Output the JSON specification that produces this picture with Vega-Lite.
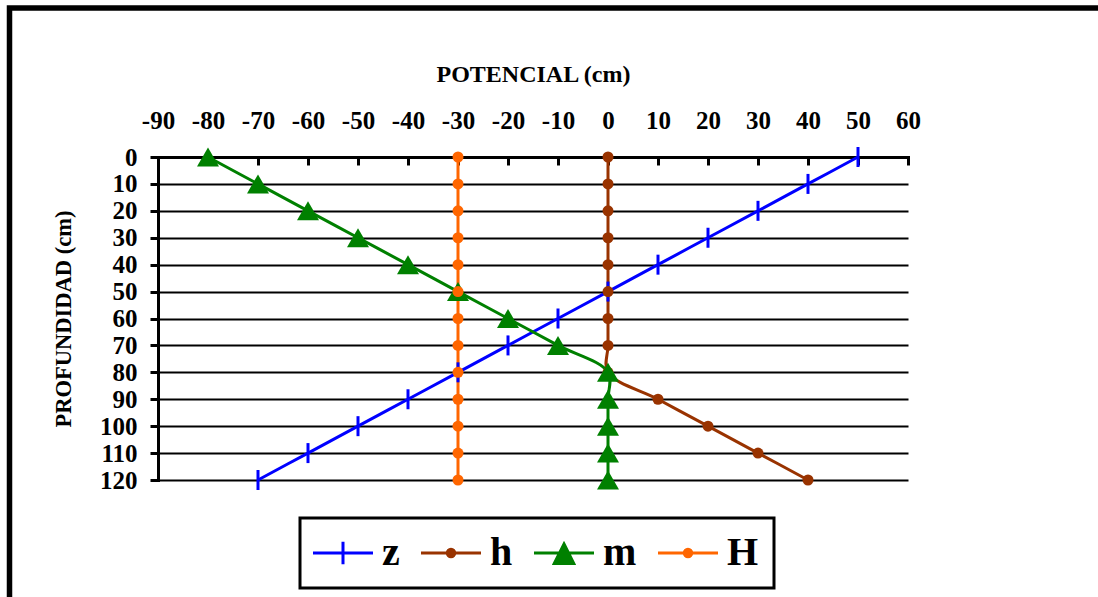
{
  "$schema": "https://vega.github.io/schema/vega-lite/v6.json",
  "width": 750,
  "height": 323,
  "autosize": "none",
  "padding": {"left": 158, "top": 157, "right": 190, "bottom": 117},
  "background": "white",
  "config": {
    "view": {"stroke": null},
    "font": "Liberation Serif",
    "legend": {"strokeWidth": 3}
  },
  "data": {
    "values": [
      {"serie": "z", "prof": 0, "pot": 50}, {"serie": "z", "prof": 10, "pot": 40}, {"serie": "z", "prof": 20, "pot": 30},
      {"serie": "z", "prof": 30, "pot": 20}, {"serie": "z", "prof": 40, "pot": 10}, {"serie": "z", "prof": 50, "pot": 0},
      {"serie": "z", "prof": 60, "pot": -10}, {"serie": "z", "prof": 70, "pot": -20}, {"serie": "z", "prof": 80, "pot": -30},
      {"serie": "z", "prof": 90, "pot": -40}, {"serie": "z", "prof": 100, "pot": -50}, {"serie": "z", "prof": 110, "pot": -60},
      {"serie": "z", "prof": 120, "pot": -70},
      {"serie": "h", "prof": 0, "pot": 0}, {"serie": "h", "prof": 10, "pot": 0}, {"serie": "h", "prof": 20, "pot": 0},
      {"serie": "h", "prof": 30, "pot": 0}, {"serie": "h", "prof": 40, "pot": 0}, {"serie": "h", "prof": 50, "pot": 0},
      {"serie": "h", "prof": 60, "pot": 0}, {"serie": "h", "prof": 70, "pot": 0}, {"serie": "h", "prof": 80, "pot": 0},
      {"serie": "h", "prof": 90, "pot": 10}, {"serie": "h", "prof": 100, "pot": 20}, {"serie": "h", "prof": 110, "pot": 30},
      {"serie": "h", "prof": 120, "pot": 40},
      {"serie": "m", "prof": 0, "pot": -80}, {"serie": "m", "prof": 10, "pot": -70}, {"serie": "m", "prof": 20, "pot": -60},
      {"serie": "m", "prof": 30, "pot": -50}, {"serie": "m", "prof": 40, "pot": -40}, {"serie": "m", "prof": 50, "pot": -30},
      {"serie": "m", "prof": 60, "pot": -20}, {"serie": "m", "prof": 70, "pot": -10}, {"serie": "m", "prof": 80, "pot": 0},
      {"serie": "m", "prof": 90, "pot": 0}, {"serie": "m", "prof": 100, "pot": 0}, {"serie": "m", "prof": 110, "pot": 0},
      {"serie": "m", "prof": 120, "pot": 0},
      {"serie": "H", "prof": 0, "pot": -30}, {"serie": "H", "prof": 10, "pot": -30}, {"serie": "H", "prof": 20, "pot": -30},
      {"serie": "H", "prof": 30, "pot": -30}, {"serie": "H", "prof": 40, "pot": -30}, {"serie": "H", "prof": 50, "pot": -30},
      {"serie": "H", "prof": 60, "pot": -30}, {"serie": "H", "prof": 70, "pot": -30}, {"serie": "H", "prof": 80, "pot": -30},
      {"serie": "H", "prof": 90, "pot": -30}, {"serie": "H", "prof": 100, "pot": -30}, {"serie": "H", "prof": 110, "pot": -30},
      {"serie": "H", "prof": 120, "pot": -30}
    ]
  },
  "layer": [
    {
      "data": {"values": [{}]},
      "mark": {"type": "rect", "fill": null, "stroke": "black", "strokeWidth": 5.5},
      "encoding": {
        "x": {
          "datum": -119.7, "type": "quantitative",
          "scale": {"domain": [-90, 60], "nice": false, "zero": false},
          "axis": {
            "orient": "top", "title": "POTENCIAL (cm)",
            "tickCount": 15,
            "labelExpr": "'' + datum.value",
            "grid": false, "domainColor": "black", "domainWidth": 3, "domainCap": "square",
            "tickColor": "black", "tickWidth": 3, "tickSize": -8,
            "labelFont": "Liberation Serif", "labelFontWeight": "bold", "labelFontSize": 25, "labelColor": "black",
            "labelPadding": 37, "labelBaseline": "alphabetic", "labelFlush": false, "labelOverlap": false,
            "titleFont": "Liberation Serif", "titleFontWeight": "bold", "titleFontSize": 24, "titleColor": "black",
            "titlePadding": 22
          }
        },
        "x2": {"datum": 130},
        "y": {
          "datum": -55.4, "type": "quantitative",
          "scale": {"domain": [0, 120], "nice": false, "zero": false, "reverse": true},
          "axis": {
            "orient": "left", "title": "PROFUNDIDAD (cm)",
            "tickCount": 12,
            "grid": true, "gridColor": "black", "gridWidth": 2, "gridOpacity": 1,
            "domainColor": "black", "domainWidth": 3, "domainCap": "square",
            "tickColor": "black", "tickWidth": 3, "tickSize": 8,
            "labelFont": "Liberation Serif", "labelFontWeight": "bold", "labelFontSize": 25, "labelColor": "black",
            "labelPadding": 13, "labelOverlap": false, "labelFlush": false,
            "titleFont": "Liberation Serif", "titleFontWeight": "bold", "titleFontSize": 22.5, "titleColor": "black",
            "titlePadding": 24
          }
        },
        "y2": {"datum": 200}
      }
    },
    {
      "mark": {"type": "line", "strokeWidth": 3, "interpolate": "catmull-rom"},
      "encoding": {
        "x": {"field": "pot", "type": "quantitative"},
        "y": {"field": "prof", "type": "quantitative"},
        "order": {"field": "prof", "type": "quantitative"},
        "color": {
          "field": "serie", "type": "nominal",
          "scale": {"domain": ["z", "h", "m", "H"], "range": ["#0000FF", "#993300", "#008000", "#FF6600"]},
          "legend": {
            "title": null, "orient": "none", "legendX": 142, "legendY": 361,
            "direction": "horizontal", "columns": 4,
            "strokeColor": "black", "fillColor": "white", "padding": 15,
            "labelFont": "Liberation Serif", "labelFontSize": 40, "labelFontWeight": "bold", "labelColor": "black",
            "labelBaseline": "middle",
            "symbolSize": 900, "symbolStrokeWidth": 3, "symbolOffset": 8, "labelOffset": 19, "columnPadding": 15,
            "encode": {
              "symbols": {
                "update": {
                  "shape": {"signal": "datum.value == 'z' ? 'M-2,0H2M0,-0.75V0.75' : (datum.value == 'm' ? 'M-2,0H2M0,-0.6L0.65,0.7L-0.65,0.7Z' : 'M-2,0H2M-0.25,0A0.25,0.25,0,1,0,0.25,0A0.25,0.25,0,1,0,-0.25,0')"},
                  "fill": {"scale": "color", "field": "value"},
                  "stroke": {"scale": "color", "field": "value"}
                }
              }
            }
          }
        }
      }
    },
    {
      "transform": [{"filter": "datum.serie == 'z'"}],
      "mark": {"type": "point", "shape": "M0,-1V1", "filled": false, "size": 400, "strokeWidth": 3, "opacity": 1},
      "encoding": {
        "x": {"field": "pot", "type": "quantitative"},
        "y": {"field": "prof", "type": "quantitative"},
        "color": {"field": "serie", "type": "nominal"}
      }
    },
    {
      "transform": [{"filter": "datum.serie == 'h'"}],
      "mark": {"type": "point", "shape": "circle", "filled": true, "size": 121, "opacity": 1, "strokeWidth": 0},
      "encoding": {
        "x": {"field": "pot", "type": "quantitative"},
        "y": {"field": "prof", "type": "quantitative"},
        "color": {"field": "serie", "type": "nominal"}
      }
    },
    {
      "transform": [{"filter": "datum.serie == 'm'"}],
      "mark": {"type": "point", "shape": "triangle-up", "filled": true, "size": 484, "opacity": 1, "strokeWidth": 0},
      "encoding": {
        "x": {"field": "pot", "type": "quantitative"},
        "y": {"field": "prof", "type": "quantitative"},
        "color": {"field": "serie", "type": "nominal"}
      }
    },
    {
      "transform": [{"filter": "datum.serie == 'H'"}],
      "mark": {"type": "point", "shape": "circle", "filled": true, "size": 121, "opacity": 1, "strokeWidth": 0},
      "encoding": {
        "x": {"field": "pot", "type": "quantitative"},
        "y": {"field": "prof", "type": "quantitative"},
        "color": {"field": "serie", "type": "nominal"}
      }
    }
  ]
}
